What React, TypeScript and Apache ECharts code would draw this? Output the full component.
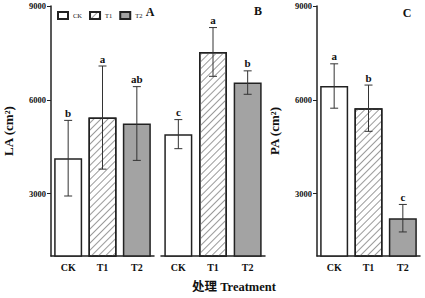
import React, { useEffect, useRef } from 'react';
import * as echarts from 'echarts';

const categories = ['CK', 'T1', 'T2'];
const yTickValues = [3000, 6000, 9000];
const laMeansA = [4130, 5430, 5240];
const laErrorsA = [1210, 1650, 1180];
const laLettersA = ['b', 'a', 'ab'];
const laMeansB = [4900, 7530, 6550];
const laErrorsB = [465, 780, 375];
const laLettersB = ['c', 'a', 'b'];
const paMeans = [6440, 5730, 2210];
const paErrors = [710, 740, 440];
const paLetters = ['a', 'b', 'c'];
const panelLabels = ['A', 'B', 'C'];
const yNames = ['LA (cm²)', '', 'PA (cm²)'];
const xTitle = '处理 Treatment';

const serif = '"Liberation Serif", "Times New Roman", serif';
const cjk = '"Liberation Serif", "Noto Sans CJK SC", serif';

const panels = [
  { means: laMeansA, errors: laErrorsA, letters: laLettersA },
  { means: laMeansB, errors: laErrorsB, letters: laLettersB },
  { means: paMeans, errors: paErrors, letters: paLetters },
];

const grids = [
  { left: 51, top: 6, width: 103, height: 250 },
  { left: 161, top: 6, width: 104, height: 250 },
  { left: 317, top: 6, width: 103, height: 250 },
];

const barStyles: any[] = [
  { color: '#ffffff', borderColor: '#222', borderWidth: 1.5 },
  {
    color: '#ffffff',
    borderColor: '#222',
    borderWidth: 1.5,
    decal: {
      symbol: 'rect',
      symbolSize: 1,
      dashArrayX: [[1, 0]],
      dashArrayY: [1, 4],
      rotation: -Math.PI / 4,
      color: '#9a9a9a',
      backgroundColor: null,
    },
  },
  { color: '#a3a3a3', borderColor: '#222', borderWidth: 1.5 },
];

const panelLabelPos = [
  [150, 12],
  [258, 11],
  [407, 13],
];

export default function App() {
  const ref = useRef<HTMLDivElement>(null);
  useEffect(() => {
    if (!ref.current) return;
    const chart = echarts.init(ref.current, null, { renderer: 'svg' });
    const axisColor = '#222';
    const xAxis = grids.map((_, p) => ({
      type: 'category',
      gridIndex: p,
      data: categories,
      axisLine: { show: true, lineStyle: { color: axisColor, width: 1.5 } },
      axisTick: { show: true, inside: true, length: 4, alignWithLabel: true, lineStyle: { color: axisColor } },
      axisLabel: { fontFamily: serif, fontWeight: 'bold', fontSize: 10, color: '#111', margin: 6 },
    }));
    const yAxis = grids.map((_, p) => ({
      type: 'value',
      gridIndex: p,
      min: 1000,
      max: 9000,
      name: yNames[p],
      nameLocation: 'middle',
      nameGap: 36,
      nameTextStyle: { fontFamily: serif, fontWeight: 'bold', fontSize: 13, color: '#111' },
      splitLine: { show: false },
      axisLine: { show: p !== 1, lineStyle: { color: axisColor, width: 1.5 } },
      axisTick: { show: p !== 1, length: 4, customValues: yTickValues, lineStyle: { color: axisColor } },
      axisLabel: {
        show: p !== 1,
        customValues: yTickValues,
        formatter: (v: number) => String(v),
        fontFamily: serif,
        fontWeight: 'bold',
        fontSize: 8.5,
        color: '#111',
        margin: 5,
      },
    }));
    const series: any[] = [];
    panels.forEach((panel, p) => {
      categories.forEach((name, s) => {
        series.push({
          type: 'bar',
          name,
          xAxisIndex: p,
          yAxisIndex: p,
          barWidth: 28,
          barGap: '-100%',
          data: panel.means.map((v, i) => (i === s ? v : '-')),
          itemStyle: barStyles[s],
          z: 2,
        });
      });
      series.push({
        type: 'custom',
        xAxisIndex: p,
        yAxisIndex: p,
        z: 5,
        clip: false,
        data: panel.means.map((m, i) => [i, m, panel.errors[i]]),
        renderItem: (params: any, api: any) => {
          const i = api.value(0);
          const m = api.value(1);
          const e = api.value(2);
          const top = api.coord([i, m + e]);
          const bot = api.coord([i, m - e]);
          const cap = 4;
          const ls = { stroke: '#333', lineWidth: 1 };
          return {
            type: 'group',
            children: [
              { type: 'line', shape: { x1: top[0], y1: top[1], x2: bot[0], y2: bot[1] }, style: ls },
              { type: 'line', shape: { x1: top[0] - cap, y1: top[1], x2: top[0] + cap, y2: top[1] }, style: ls },
              { type: 'line', shape: { x1: bot[0] - cap, y1: bot[1], x2: bot[0] + cap, y2: bot[1] }, style: ls },
              {
                type: 'text',
                x: top[0],
                y: top[1] - 2,
                style: {
                  text: panel.letters[params.dataIndex],
                  align: 'center',
                  verticalAlign: 'bottom',
                  fontFamily: serif,
                  fontWeight: 'bold',
                  fontSize: 11,
                  fill: '#111',
                },
              },
            ],
          };
        },
      });
    });
    const graphic: any[] = panelLabels.map((t, p) => ({
      type: 'text',
      x: panelLabelPos[p][0],
      y: panelLabelPos[p][1],
      style: {
        text: t,
        align: 'center',
        verticalAlign: 'middle',
        fontFamily: serif,
        fontWeight: 'bold',
        fontSize: 12,
        fill: '#111',
      },
    }));
    graphic.push({
      type: 'text',
      x: 234,
      y: 287,
      style: {
        text: xTitle,
        align: 'center',
        verticalAlign: 'middle',
        fontFamily: cjk,
        fontWeight: 'bold',
        fontSize: 12.5,
        fill: '#111',
      },
    });
    chart.setOption({
      animation: false,
      backgroundColor: '#fff',
      grid: grids,
      xAxis,
      yAxis,
      legend: {
        data: categories,
        left: 57,
        top: 11,
        padding: 0,
        itemWidth: 10,
        itemHeight: 7,
        itemGap: 7,
        icon: 'rect',
        textStyle: { fontFamily: serif, fontSize: 6.5, color: '#111' },
      },
      series,
      graphic,
    });
    return () => chart.dispose();
  }, []);
  return <div ref={ref} style={{ position: 'absolute', left: 0, top: 0, width: 425, height: 298 }} />;
}
